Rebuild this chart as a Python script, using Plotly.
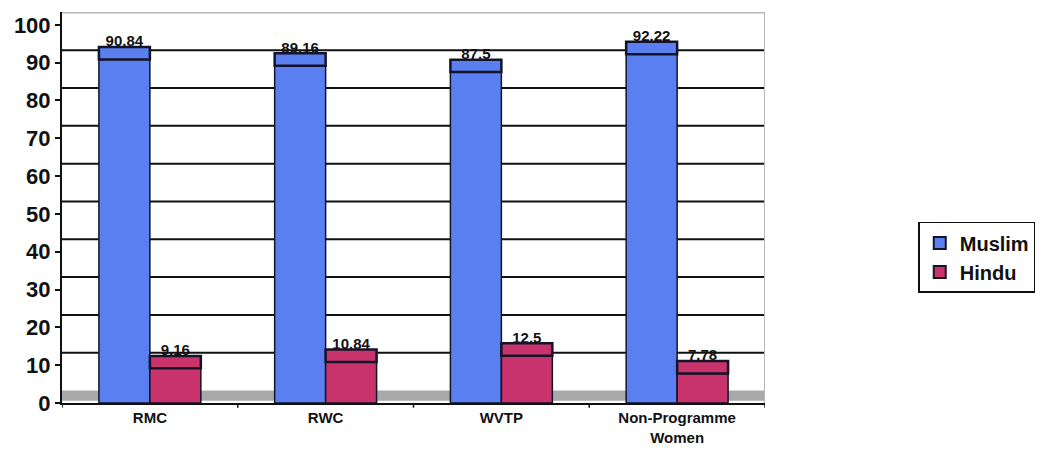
import plotly.graph_objects as go

# Respondent religion by group (%)
categories = ["RMC", "RWC", "WVTP", "Non-Programme<br>Women"]
muslim = [90.84, 89.16, 87.5, 92.22]
hindu = [9.16, 10.84, 12.5, 7.78]
y_ticks = [0, 10, 20, 30, 40, 50, 60, 70, 80, 90, 100]

BLUE = "#5a7ff0"
RED = "#c8336b"
EDGE = "#141428"
DEPTH = 3.3          # apparent depth of the 3-D columns, in axis units
BW = 0.29            # column width in category units
FONT = "Arial, Liberation Sans, sans-serif"

x = list(range(len(categories)))
fig = go.Figure()

series = [("Muslim", muslim, BLUE, -BW), ("Hindu", hindu, RED, 0.0)]
for name, vals, col, off in series:
    fig.add_trace(go.Bar(
        x=x, y=vals, name=name, width=BW, offset=off,
        marker=dict(color=col, line=dict(color=EDGE, width=1.5)),
    ))

shapes = []
# back-wall gridlines and floor, shifted by the column depth
shapes.append(dict(type="rect", xref="x", yref="y", x0=-0.5, x1=3.5, y0=0.6, y1=DEPTH,
                   fillcolor="#a9a9a9", line=dict(width=0), layer="below"))
for t in y_ticks[1:-1]:
    shapes.append(dict(type="line", xref="x", yref="y", x0=-0.5, x1=3.5,
                       y0=t + DEPTH, y1=t + DEPTH, line=dict(color="#111111", width=2),
                       layer="below"))
shapes.append(dict(type="line", xref="x", yref="y", x0=-0.5, x1=3.5,
                   y0=100 + DEPTH, y1=100 + DEPTH, line=dict(color="#b8b8b8", width=2),
                   layer="below"))
shapes.append(dict(type="line", xref="x", yref="y", x0=3.5, x1=3.5,
                   y0=0, y1=100 + DEPTH, line=dict(color="#b8b8b8", width=2),
                   layer="below"))
# column tops
for name, vals, col, off in series:
    for i, v in enumerate(vals):
        shapes.append(dict(type="rect", xref="x", yref="y",
                           x0=i + off, x1=i + off + BW, y0=v, y1=v + DEPTH,
                           fillcolor=col, line=dict(color=EDGE, width=2.5)))
# category separator ticks on the x axis
for b in [-0.5, 0.5, 1.5, 2.5, 3.5]:
    shapes.append(dict(type="line", xref="x", yref="paper", x0=b, x1=b,
                       y0=0, y1=-0.012, line=dict(color="#111111", width=1.5)))

# value labels above each column
for name, vals, col, off in series:
    fig.add_trace(go.Scatter(
        x=[i + off + BW / 2 for i in x], y=[v + DEPTH - 0.8 for v in vals],
        text=[f"{v:g}" for v in vals], mode="text", textposition="top center",
        textfont=dict(family=FONT, size=15, color="#111111", weight="bold"),
        showlegend=False, hoverinfo="skip", cliponaxis=False,
    ))

fig.update_layout(
    width=1049, height=467,
    margin=dict(l=62, r=284, t=12, b=64),
    paper_bgcolor="white", plot_bgcolor="white",
    barmode="overlay", shapes=shapes,
    font=dict(family=FONT, color="#111111"),
    showlegend=True,
    legend=dict(x=1.218, y=0.463, xanchor="left", yanchor="top",
                bordercolor="#111111", borderwidth=1.5,
                font=dict(family=FONT, size=20, color="#111111", weight="bold"),
                itemsizing="constant", tracegroupgap=2, itemwidth=30),
    xaxis=dict(range=[-0.5, 3.5], tickvals=x, ticktext=categories,
               showgrid=False, zeroline=False, showline=True,
               linecolor="#111111", linewidth=2, ticks="",
               tickfont=dict(family=FONT, size=15, color="#111111", weight="bold")),
    yaxis=dict(range=[0, 100 + DEPTH + 0.1], tickvals=y_ticks,
               showgrid=False, zeroline=False, showline=True,
               linecolor="#111111", linewidth=2, ticks="outside", ticklen=5,
               tickwidth=2, tickcolor="#111111",
               tickfont=dict(family=FONT, size=22, color="#111111", weight="bold")),
)

fig.write_html("out.html")
